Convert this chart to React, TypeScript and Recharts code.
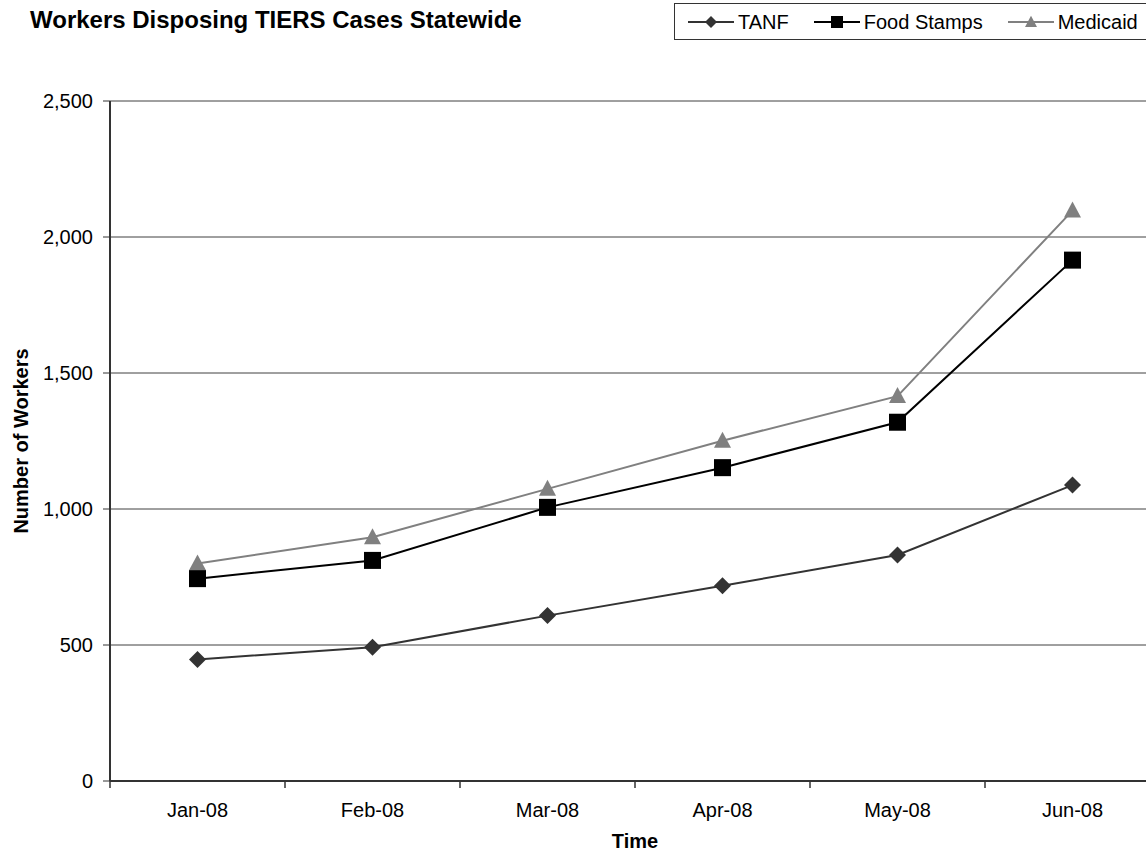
import { CartesianGrid, Line, LineChart, ReferenceLine, XAxis, YAxis } from 'recharts';

// Monthly counts of workers disposing cases, by program
const months = ['Jan-08', 'Feb-08', 'Mar-08', 'Apr-08', 'May-08', 'Jun-08'];
const tanf = [447, 492, 608, 718, 831, 1088];
const foodStamps = [744, 811, 1006, 1152, 1319, 1915];
const medicaid = [800, 896, 1074, 1251, 1415, 2097];
const yTicks = [0, 500, 1000, 1500, 2000, 2500];

const FONT = 'Arial, "Liberation Sans", Helvetica, sans-serif';

const CHART_W = 1160;
const CHART_H = 853;
const Y_AXIS_W = 110;
const X_AXIS_H = 72;
const PLOT_TOP = 101;
const PLOT_W = CHART_W - Y_AXIS_W;
const PLOT_BOTTOM = CHART_H - X_AXIS_H;
const BAND = PLOT_W / months.length;

type Shape = 'diamond' | 'square' | 'triangle';

interface SeriesDef {
  key: 'tanf' | 'foodStamps' | 'medicaid';
  name: string;
  color: string;
  shape: Shape;
}

const SERIES: SeriesDef[] = [
  { key: 'tanf', name: 'TANF', color: '#333333', shape: 'diamond' },
  { key: 'foodStamps', name: 'Food Stamps', color: '#000000', shape: 'square' },
  { key: 'medicaid', name: 'Medicaid', color: '#808080', shape: 'triangle' },
];

const data = months.map((month, i) => ({
  month,
  tanf: tanf[i],
  foodStamps: foodStamps[i],
  medicaid: medicaid[i],
}));

function Marker({ cx, cy, size, shape, color }: { cx: number; cy: number; size: number; shape: Shape; color: string }) {
  const h = size / 2;
  if (shape === 'square') {
    return <rect x={cx - h} y={cy - h} width={size} height={size} fill={color} />;
  }
  if (shape === 'diamond') {
    return <polygon points={`${cx},${cy - h} ${cx + h},${cy} ${cx},${cy + h} ${cx - h},${cy}`} fill={color} />;
  }
  const top = cy - size * 0.53;
  const base = cy + size * 0.41;
  return <polygon points={`${cx},${top} ${cx + h},${base} ${cx - h},${base}`} fill={color} />;
}

// Category label at band centre, tick mark at the band's left edge
function MonthTick(props: any) {
  const { x, payload } = props;
  const edge = x - BAND / 2;
  return (
    <g>
      <line x1={edge} y1={PLOT_BOTTOM} x2={edge} y2={PLOT_BOTTOM + 7} stroke="#333" strokeWidth={1.5} />
      <text x={x} y={PLOT_BOTTOM + 22} dy="0.71em" textAnchor="middle" fontSize={20} fill="#000" fontFamily={FONT}>
        {payload.value}
      </text>
    </g>
  );
}

const renderXTitle = () => (
  <text x={Y_AXIS_W + PLOT_W / 2} y={848} textAnchor="middle" fontSize={20} fontWeight="bold" fill="#000" fontFamily={FONT}>
    Time
  </text>
);

const renderYTitle = () => (
  <text
    transform={`translate(28, ${(PLOT_TOP + PLOT_BOTTOM) / 2}) rotate(-90)`}
    textAnchor="middle"
    fontSize={20}
    fontWeight="bold"
    fill="#000"
    fontFamily={FONT}
  >
    Number of Workers
  </text>
);

function LegendBox() {
  return (
    <div
      style={{
        position: 'absolute',
        left: 674,
        top: 3,
        width: 490,
        height: 35,
        border: '1px solid #333',
        display: 'flex',
        alignItems: 'center',
        paddingLeft: 13,
        gap: 25,
        background: '#fff',
      }}
    >
      {SERIES.map((s) => (
        <div key={s.key} style={{ display: 'flex', alignItems: 'center' }}>
          <svg width={46} height={14} style={{ display: 'block' }}>
            <line x1={0} y1={7} x2={46} y2={7} stroke={s.color} strokeWidth={2} />
            <Marker cx={23} cy={7} size={12} shape={s.shape} color={s.color} />
          </svg>
          <span style={{ marginLeft: 4, fontSize: 20, lineHeight: '20px', color: '#000' }}>{s.name}</span>
        </div>
      ))}
    </div>
  );
}

export default function App() {
  return (
    <div
      style={{
        position: 'absolute',
        left: 0,
        top: 0,
        width: 1146,
        height: 853,
        overflow: 'hidden',
        background: '#fff',
        fontFamily: FONT,
      }}
    >
      <div
        style={{
          position: 'absolute',
          left: 30,
          top: 8,
          fontSize: 24,
          lineHeight: '24px',
          fontWeight: 'bold',
          color: '#000',
          whiteSpace: 'nowrap',
        }}
      >
        Workers Disposing TIERS Cases Statewide
      </div>
      <LegendBox />
      <LineChart
        width={CHART_W}
        height={CHART_H}
        data={data}
        margin={{ top: PLOT_TOP, right: 0, bottom: 0, left: 0 }}
      >
        <CartesianGrid vertical={false} stroke="#404040" />
        <ReferenceLine y={2500} stroke="#a0a0a0" />
        <XAxis
          dataKey="month"
          height={X_AXIS_H}
          padding={{ left: BAND / 2, right: BAND / 2 }}
          axisLine={{ stroke: '#333', strokeWidth: 2 }}
          tickLine={false}
          tick={<MonthTick />}
          interval={0}
          label={renderXTitle}
        />
        <YAxis
          width={Y_AXIS_W}
          domain={[0, 2500]}
          ticks={yTicks}
          interval={0}
          tickSize={7}
          tickMargin={10}
          axisLine={{ stroke: '#333', strokeWidth: 2 }}
          tickLine={{ stroke: '#333' }}
          tick={{ fill: '#000', fontSize: 20, fontFamily: FONT }}
          tickFormatter={(v: number) => v.toLocaleString('en-US')}
          label={renderYTitle}
        />
        {[...SERIES].reverse().map((s) => (
          <Line
            key={s.key}
            type="linear"
            dataKey={s.key}
            name={s.name}
            stroke={s.color}
            strokeWidth={2}
            isAnimationActive={false}
            dot={(p: any) => (
              <Marker key={`${s.key}-${p.index}`} cx={p.cx} cy={p.cy} size={17} shape={s.shape} color={s.color} />
            )}
            activeDot={false}
          />
        ))}
      </LineChart>
    </div>
  );
}
